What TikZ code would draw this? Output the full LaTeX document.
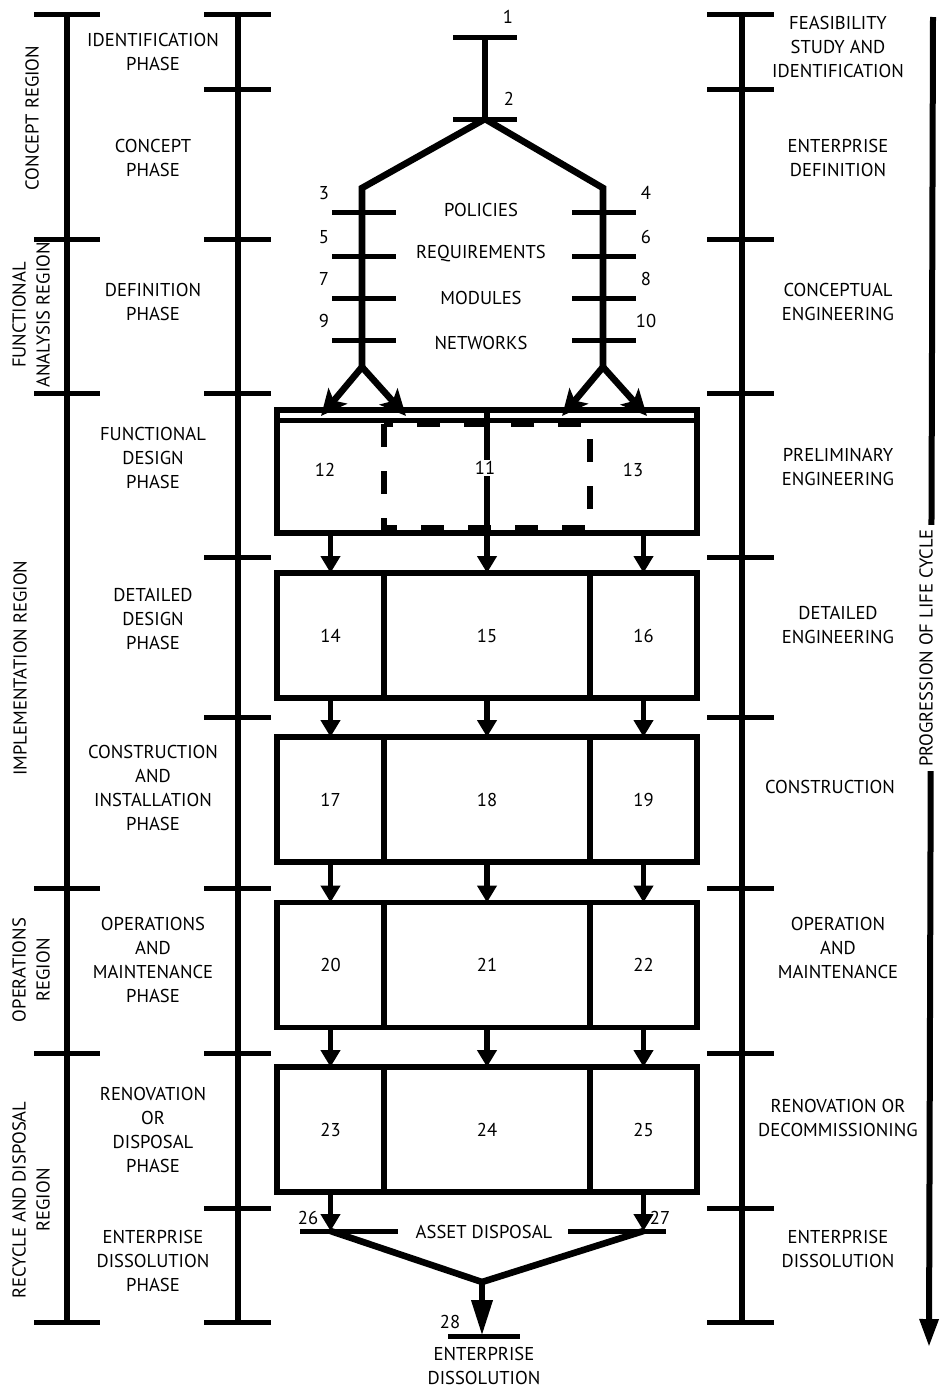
\documentclass[tikz,border=0pt]{standalone}
\usepackage{fontspec}
\setmainfont{PT Sans}
\usetikzlibrary{arrows.meta}

\tikzset{
  txt/.style={font=\fontsize{9.3}{12}\selectfont, align=center, inner sep=1pt},
  axis/.style={line width=3pt},
  tickmark/.style={line width=2.5pt},
  bar/.style={line width=3.3pt, line join=miter},
  cell/.style={draw, line width=2.6pt, minimum height=62.5pt, inner sep=0pt, outer sep=0pt, txt},
  flow/.style={line width=2.6pt, -{Triangle[width=9.5pt,length=8.5pt]}},
  split/.style={line width=3.3pt, -{Stealth[width=12pt,length=13pt,inset=3pt]}},
}

\begin{document}
\begin{tikzpicture}[x=0.5pt, y=-0.5pt]
  \useasboundingbox (0,0) rectangle (940,1387);

  % region, phase and stage scales
  \draw[axis] (67,14) -- (67,1322);
  \foreach \y in {14,239,393,888,1053,1322}
    \draw[tickmark] (34,\y) -- (100,\y);
  \draw[axis] (238,14) -- (238,1322);
  \draw[axis] (742,14) -- (742,1322);
  \foreach \y in {14,89,239,393,557,717,888,1053,1208,1322} {
    \draw[tickmark] (204,\y) -- (271,\y);
    \draw[tickmark] (707,\y) -- (774,\y);
  }

  % region labels
  \node[txt, rotate=90] (rconcept) at (32,118) {CONCEPT REGION};
  \node[txt, rotate=90] (rfunc) at (31,315) {FUNCTIONAL\\ANALYSIS REGION};
  \node[txt, rotate=90] (rimpl) at (20,668) {IMPLEMENTATION REGION};
  \node[txt, rotate=90] (roper) at (31,970) {OPERATIONS\\REGION};
  \node[txt, rotate=90] (rrecyc) at (31,1200) {RECYCLE AND DISPOSAL\\REGION};

  % phase labels
  \node[txt] (ph1) at (153,52) {IDENTIFICATION\\PHASE};
  \node[txt] (ph2) at (153,158) {CONCEPT\\PHASE};
  \node[txt] (ph3) at (153,302) {DEFINITION\\PHASE};
  \node[txt] (ph4) at (153,458) {FUNCTIONAL\\DESIGN\\PHASE};
  \node[txt] (ph5) at (153,619) {DETAILED\\DESIGN\\PHASE};
  \node[txt] (ph6) at (153,788) {CONSTRUCTION\\AND\\INSTALLATION\\PHASE};
  \node[txt] (ph7) at (153,960) {OPERATIONS\\AND\\MAINTENANCE\\PHASE};
  \node[txt] (ph8) at (153,1130) {RENOVATION\\OR\\DISPOSAL\\PHASE};
  \node[txt] (ph9) at (153,1261) {ENTERPRISE\\DISSOLUTION\\PHASE};

  % stage labels
  \node[txt] (st1) at (838,47) {FEASIBILITY\\STUDY AND\\IDENTIFICATION};
  \node[txt] (st2) at (838,158) {ENTERPRISE\\DEFINITION};
  \node[txt] (st3) at (838,302) {CONCEPTUAL\\ENGINEERING};
  \node[txt] (st4) at (838,467) {PRELIMINARY\\ENGINEERING};
  \node[txt] (st5) at (838,625) {DETAILED\\ENGINEERING};
  \node[txt] (st6) at (830,787) {CONSTRUCTION};
  \node[txt] (st7) at (838,948) {OPERATION\\AND\\MAINTENANCE};
  \node[txt] (st8) at (838,1118) {RENOVATION OR\\DECOMMISSIONING};
  \node[txt] (st9) at (838,1249) {ENTERPRISE\\DISSOLUTION};

  % progression arrow
  \coordinate (lctop) at (933,17);
  \coordinate (lcend) at (929,1347);
  \draw[line width=3pt, -{Triangle[width=9pt,length=14pt]}] (lctop) -- (lcend);
  \node[txt, rotate=90, fill=white, inner sep=2pt] (lclabel) at (926,648) {PROGRESSION OF LIFE CYCLE};

  % top ladder
  \coordinate (p1) at (485,37);
  \coordinate (p2) at (485,119);
  \coordinate (s3) at (362,188);
  \coordinate (s4) at (603,188);
  \coordinate (f3) at (362,367);
  \coordinate (f4) at (603,367);
  \draw[tickmark] (453,37) -- (517,37);
  \draw[tickmark] (453,119) -- (517,119);
  \draw[bar] (p1) -- (p2);
  \draw[bar] (f3) -- (s3) -- (p2) -- (s4) -- (f4);
  \node[txt] (n1) at (508,17) {1};
  \node[txt] (n2) at (509,99) {2};
  \foreach \y/\a/\b in {212/3/4, 256/5/6, 298/7/8, 340/9/10} {
    \draw[tickmark] (332,\y) -- (396,\y);
    \draw[tickmark] (572,\y) -- (636,\y);
    \node[txt] at (324,\y-19) {\a};
    \node[txt] at (646,\y-19) {\b};
  }
  \node[txt] (pol) at (481,210) {POLICIES};
  \node[txt] (req) at (481,254) {REQUIREMENTS};
  \node[txt] (mod) at (481,298) {MODULES};
  \node[txt] (net) at (481,343) {NETWORKS};

  % first box
  \node[cell, minimum width=210pt, minimum height=61.5pt] (r1) at (487,471.5) {};
  \draw[line width=2.5pt] ([yshift=-5pt]r1.north west) -- ([yshift=-5pt]r1.north east);
  \draw[line width=2.6pt] (r1.north) -- (r1.south);
  \draw[line width=2.6pt, dash pattern=on 11.5pt off 12pt] (384,424) rectangle (590,528);
  \node[txt] (n12) at (325,470) {12};
  \node[txt, fill=white, inner sep=0.5pt] (n11) at (485,468) {11};
  \node[txt] (n13) at (633,470) {13};
  \draw[split] (f3) -- (321,416);
  \draw[split] (f3) -- (406,416);
  \draw[split] (f4) -- (562,416);
  \draw[split] (f4) -- (647,416);

  % remaining boxes
  \foreach \r/\y/\a/\b/\c in {2/635.5/14/15/16, 3/799.5/17/18/19, 4/965/20/21/22, 5/1129.5/23/24/25} {
    \node[cell, minimum width=53.5pt] (l\r) at (330.5,\y) {\a};
    \node[cell, minimum width=103pt] (m\r) at (487,\y) {\b};
    \node[cell, minimum width=53.5pt] (r\r) at (643.5,\y) {\c};
  }
  \draw[flow] (r1.south -| l2) -- (l2.north);
  \draw[flow] (r1.south) -- (m2.north);
  \draw[flow] (r1.south -| r2) -- (r2.north);
  \foreach \r/\s in {2/3, 3/4, 4/5} {
    \draw[flow] (l\r.south) -- (l\s.north);
    \draw[flow] (m\r.south) -- (m\s.north);
    \draw[flow] (r\r.south) -- (r\s.north);
  }

  % disposal
  \coordinate (a26) at (330.5,1231);
  \coordinate (a27) at (643.5,1231);
  \coordinate (j) at (482,1282);
  \coordinate (e28) at (482,1336);
  \draw[flow] (l5.south) -- (a26);
  \draw[flow] (r5.south) -- (a27);
  \draw[tickmark] (300,1231) -- (398,1231);
  \draw[tickmark] (568,1231) -- (666,1231);
  \draw[bar] (a26) -- (j) -- (a27);
  \draw[line width=3.3pt, -{Triangle[width=10pt,length=18pt]}] (j) -- (e28);
  \draw[tickmark] (448,1336) -- (520,1336);
  \node[txt] (asset) at (484,1232) {ASSET DISPOSAL};
  \node[txt] (n26) at (308,1218) {26};
  \node[txt] (n27) at (660,1218) {27};
  \node[txt] (n28) at (450,1322) {28};
  \node[txt] (dissol) at (484,1366) {ENTERPRISE\\DISSOLUTION};
\end{tikzpicture}
\end{document}
